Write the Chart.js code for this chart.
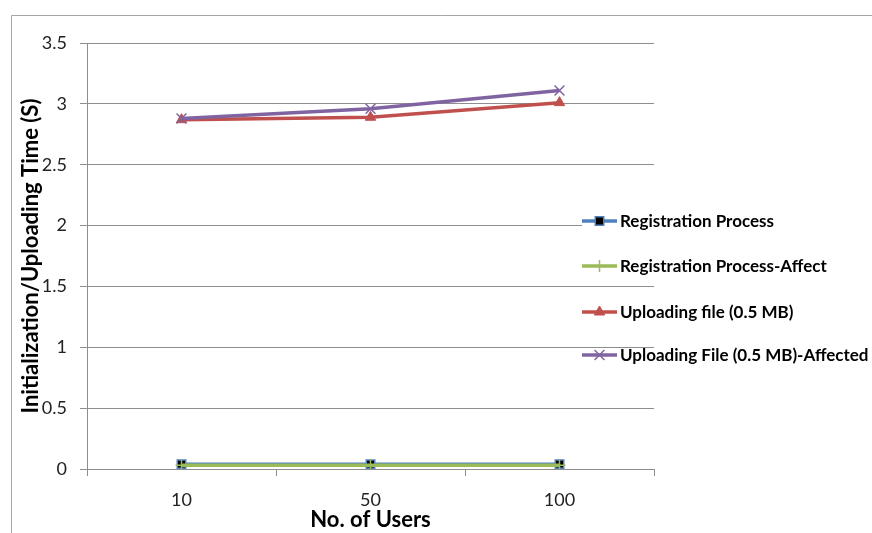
<!DOCTYPE html>
<html>
<head>
<meta charset="utf-8">
<script src="https://cdn.jsdelivr.net/npm/chart.js@4/dist/chart.umd.min.js"></script>
<style>
  html, body { margin: 0; padding: 0; background: #fff; }
  #wrap { width: 872px; height: 533px; }
</style>
</head>
<body>
<div id="wrap"><canvas id="c" width="872" height="533"></canvas></div>
<script>
const categories = ['10', '50', '100'];
const seriesNames = ['Registration Process', 'Registration Process-Affect', 'Uploading file (0.5 MB)', 'Uploading File (0.5 MB)-Affected'];
const registrationProcess = [0.04, 0.04, 0.04];
const registrationProcessAffect = [0.03, 0.03, 0.03];
const uploadingFile = [2.87, 2.89, 3.01];
const uploadingFileAffected = [2.88, 2.96, 3.11];
const yTitle = 'Initialization/Uploading Time (S)';
const xTitle = 'No. of Users';

const GRID = '#8e8e8e';

const frameBorder = {
  id: 'frameBorder',
  beforeDraw(chart) {
    const ctx = chart.ctx;
    ctx.save();
    ctx.strokeStyle = '#a6a6a6';
    ctx.lineWidth = 1;
    ctx.beginPath();
    ctx.moveTo(11.5, 533);
    ctx.lineTo(11.5, 15.5);
    ctx.lineTo(872, 15.5);
    ctx.stroke();
    ctx.restore();
  }
};

const customLegend = {
  id: 'customLegend',
  afterDraw(chart) {
    const ctx = chart.ctx;
    const x0 = 582, x1 = 617, tx = 620;
    const ys = [221, 266, 312, 355];
    ctx.save();
    chart.data.datasets.forEach((ds, i) => {
      const y = ys[i];
      ctx.fillStyle = '#fff';
      ctx.fillRect(x0, y - 7, 655 - x0, 14);
      ctx.strokeStyle = ds.borderColor;
      ctx.lineWidth = ds.borderWidth;
      ctx.beginPath();
      ctx.moveTo(x0, y);
      ctx.lineTo(x1, y);
      ctx.stroke();
      ctx.fillStyle = ds.pointBackgroundColor;
      ctx.strokeStyle = ds.pointBorderColor;
      ctx.lineWidth = ds.pointBorderWidth;
      Chart.helpers.drawPoint(ctx, {
        pointStyle: ds.pointStyle, radius: ds.pointRadius, rotation: 0,
        borderWidth: ds.pointBorderWidth
      }, (x0 + x1) / 2, y);
      ctx.fillStyle = '#000';
      ctx.font = 'bold 17px Lato';
      ctx.textBaseline = 'middle';
      ctx.textAlign = 'left';
      ctx.fillText(ds.label, tx, y + 1);
    });
    ctx.restore();
  }
};

new Chart(document.getElementById('c'), {
  type: 'line',
  data: {
    labels: categories,
    datasets: [
      {
        label: seriesNames[0], data: registrationProcess, order: 3,
        borderColor: '#4F81BD', borderWidth: 3.5,
        pointStyle: 'rect', pointRadius: 6, pointBackgroundColor: '#000', pointBorderColor: '#4F81BD', pointBorderWidth: 1.5
      },
      {
        label: seriesNames[1], data: registrationProcessAffect, order: 2,
        borderColor: '#9BBB59', borderWidth: 3.5,
        pointStyle: 'cross', pointRadius: 6, pointBackgroundColor: '#9BBB59', pointBorderColor: '#9BBB59', pointBorderWidth: 1.5
      },
      {
        label: seriesNames[2], data: uploadingFile, order: 1,
        borderColor: '#C0504D', borderWidth: 3.5,
        pointStyle: 'triangle', pointRadius: 6, pointBackgroundColor: '#C0504D', pointBorderColor: '#C0504D', pointBorderWidth: 1
      },
      {
        label: seriesNames[3], data: uploadingFileAffected, order: 0,
        borderColor: '#8064A2', borderWidth: 3.5,
        pointStyle: 'crossRot', pointRadius: 7, pointBackgroundColor: '#8064A2', pointBorderColor: '#8064A2', pointBorderWidth: 1.5
      }
    ]
  },
  options: {
    responsive: false,
    animation: false,
    devicePixelRatio: 1,
    layout: { padding: { left: 0, top: 43, right: 218, bottom: 0 } },
    plugins: { legend: { display: false }, tooltip: { enabled: false } },
    elements: { line: { tension: 0 } },
    scales: {
      x: {
        type: 'category',
        offset: true,
        grid: { offset: true, drawOnChartArea: false, drawTicks: true, tickLength: 7, color: GRID },
        border: { color: GRID, width: 1 },
        ticks: { font: { family: 'Lato', size: 18 }, color: '#222', padding: 13, maxRotation: 0 },
        title: { display: true, text: xTitle, font: { family: 'Lato', size: 22, weight: 'bold' }, color: '#000', padding: { top: 0, bottom: 0 } },
        afterFit: s => { s.height = 64; }
      },
      y: {
        min: 0, max: 3.5,
        ticks: { stepSize: 0.5, font: { family: 'Lato', size: 18 }, color: '#222', padding: 13,
                 callback: v => String(Math.round(v * 10) / 10) },
        grid: { color: GRID, tickLength: 7 },
        border: { color: GRID, width: 1 },
        title: { display: true, text: yTitle, font: { family: 'Lato', size: 22, weight: 'bold' }, color: '#000', padding: { top: 18, bottom: 0 } },
        afterFit: s => { s.width = 87; }
      }
    }
  },
  plugins: [frameBorder, customLegend]
});
</script>
</body>
</html>
